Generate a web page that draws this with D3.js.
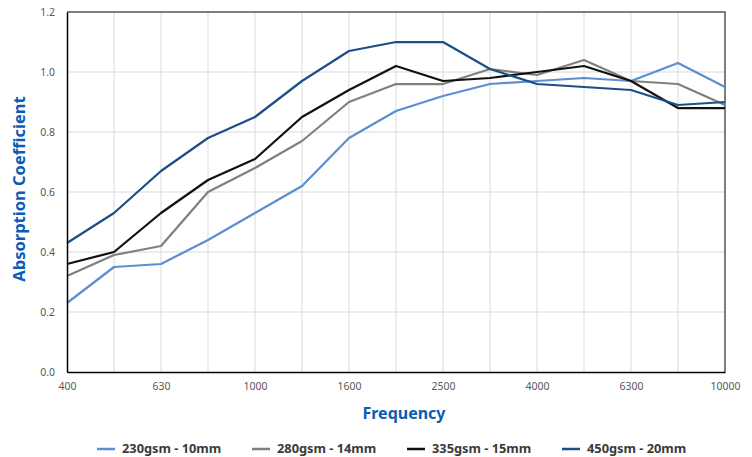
<!DOCTYPE html>
<html>
<head>
<meta charset="utf-8">
<script src="https://cdn.jsdelivr.net/npm/d3@7"></script>
<style>
  html, body { margin: 0; padding: 0; background: #fff; }
  svg { display: block; font-family: "Noto Sans", "Open Sans", sans-serif; }
</style>
</head>
<body>
<div id="chart"></div>
<script>
// Frequencies (Hz), one per third-octave band
const frequencies = ['400', '500', '630', '800', '1000', '1250', '1600', '2000', '2500', '3150', '4000', '5000', '6300', '8000', '10000'];
const tickLabels = ['400', '630', '1000', '1600', '2500', '4000', '6300', '10000'];
const yTicks = [0, 0.2, 0.4, 0.6, 0.8, 1.0, 1.2];

const seriesNames = ['230gsm - 10mm', '280gsm - 14mm', '335gsm - 15mm', '450gsm - 20mm'];
const seriesColors = ['#5b8fd2', '#808080', '#111111', '#1c4f87'];

const s230 = [0.23, 0.35, 0.36, 0.44, 0.53, 0.62, 0.78, 0.87, 0.92, 0.96, 0.97, 0.98, 0.97, 1.03, 0.95];
const s280 = [0.32, 0.39, 0.42, 0.60, 0.68, 0.77, 0.90, 0.96, 0.96, 1.01, 0.99, 1.04, 0.97, 0.96, 0.89];
const s335 = [0.36, 0.40, 0.53, 0.64, 0.71, 0.85, 0.94, 1.02, 0.97, 0.98, 1.00, 1.02, 0.97, 0.88, 0.88];
const s450 = [0.43, 0.53, 0.67, 0.78, 0.85, 0.97, 1.07, 1.10, 1.10, 1.01, 0.96, 0.95, 0.94, 0.89, 0.90];
const allSeries = [s230, s280, s335, s450];

const W = 752, H = 457;
const m = { left: 67, right: 27, top: 12, bottom: 85 };

const svg = d3.select('#chart').append('svg')
  .attr('width', W).attr('height', H);

const x = d3.scalePoint().domain(frequencies).range([m.left, W - m.right]);
const y = d3.scaleLinear().domain([0, 1.2]).range([H - m.bottom, m.top]);

// Grid
const grid = svg.append('g');
grid.selectAll('line.h').data(yTicks.slice(1)).join('line')
  .attr('x1', m.left).attr('x2', W - m.right)
  .attr('y1', d => y(d)).attr('y2', d => y(d))
  .attr('stroke', '#d9d9d9').attr('stroke-width', 1);
grid.selectAll('line.v').data(frequencies.slice(1)).join('line')
  .attr('x1', d => x(d)).attr('x2', d => x(d))
  .attr('y1', m.top).attr('y2', H - m.bottom)
  .attr('stroke', '#d9d9d9').attr('stroke-width', 1);

// Frame: top/right in dark grey
svg.append('path')
  .attr('d', `M${m.left},${m.top}H${W - m.right}V${H - m.bottom}`)
  .attr('fill', 'none').attr('stroke', '#5a5a5a').attr('stroke-width', 1.5);

// Lines
const line = d3.line().x((d, i) => x(frequencies[i])).y(d => y(d));
svg.append('g').selectAll('path').data(allSeries).join('path')
  .attr('d', line)
  .attr('fill', 'none')
  .attr('stroke', (d, i) => seriesColors[i])
  .attr('stroke-width', 2.25)
  .attr('stroke-linejoin', 'round');

// Axes
const xAxis = svg.append('g')
  .attr('transform', `translate(0,${H - m.bottom})`)
  .call(d3.axisBottom(x).tickValues(tickLabels).tickSize(0).tickPadding(11));
const yAxis = svg.append('g')
  .attr('transform', `translate(${m.left},0)`)
  .call(d3.axisLeft(y).tickValues(yTicks).tickFormat(d3.format('.1f')).tickSize(0).tickPadding(12));

[xAxis, yAxis].forEach(a => {
  a.select('.domain').attr('stroke', '#000').attr('stroke-width', 1.5);
  a.selectAll('text').attr('fill', '#595959').attr('font-size', '10.5px')
    .attr('font-family', '"Noto Sans", sans-serif');
});

// Titles
svg.append('text')
  .attr('x', 404).attr('y', 419)
  .attr('text-anchor', 'middle')
  .attr('font-size', '16px').attr('font-weight', 'bold')
  .attr('fill', '#0b5cb5')
  .text('Frequency');

svg.append('text')
  .attr('transform', 'translate(25,189) rotate(-90)')
  .attr('text-anchor', 'middle')
  .attr('font-size', '16.5px').attr('font-weight', 'bold')
  .attr('fill', '#0b5cb5')
  .text('Absorption Coefficient');

// Legend
const legend = svg.append('g').attr('transform', 'translate(97,449)');
const item = legend.selectAll('g').data(seriesNames).join('g')
  .attr('transform', (d, i) => `translate(${i * 155},0)`);
item.append('line')
  .attr('x1', 0).attr('x2', 18).attr('y1', 0).attr('y2', 0)
  .attr('stroke', (d, i) => seriesColors[i]).attr('stroke-width', 2.5);
item.append('text')
  .attr('x', 25).attr('dy', '0.35em')
  .attr('font-size', '12.8px').attr('font-weight', 'bold')
  .attr('fill', '#3a3a3a')
  .text(d => d);
</script>
</body>
</html>
